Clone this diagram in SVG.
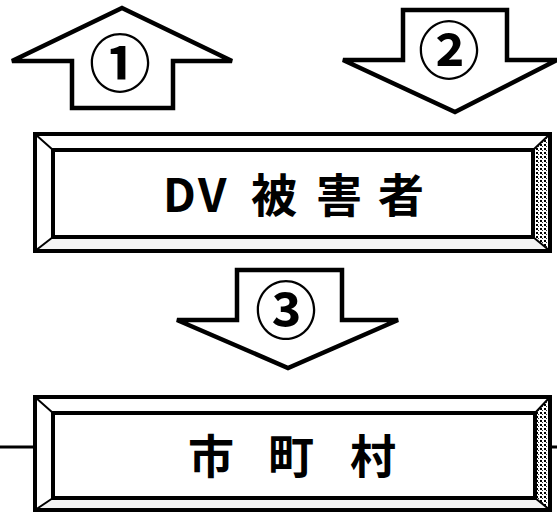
<svg xmlns="http://www.w3.org/2000/svg" width="557" height="512" viewBox="0 0 557 512">
<defs>
<pattern id="stip" width="4" height="4" patternUnits="userSpaceOnUse">
<rect width="4" height="4" fill="#ffffff"/>
<rect x="0" y="0" width="2" height="2" fill="#000"/>
<rect x="2" y="2" width="1" height="1" fill="#333"/>
</pattern>
</defs>
<style>
.arrow{fill:#fff;stroke:#000;stroke-width:4.5;stroke-linejoin:miter}
.frame{fill:none;stroke:#000;stroke-width:4}
.bev{stroke:#000;stroke-width:2}
.num{font-family:"Noto Sans CJK JP","Noto Sans",sans-serif;font-size:62px;font-weight:bold;text-anchor:middle;fill:#000}
.lbl{font-family:"Noto Sans CJK JP","Noto Sans",sans-serif;font-size:46px;font-weight:bold;fill:#000}
.conn{stroke:#000;stroke-width:3;fill:none}
</style>
<rect width="557" height="512" fill="#fff"/>
<g id="arrow1">
<polygon class="arrow" points="122,8 232,61 173,61 173,108 72,108 72,61 12,61"/>
<text class="num" x="120" y="87">①</text>
</g>
<g id="arrow2">
<polygon class="arrow" points="403,10 507,10 507,60 557,60 455,112 343,60 403,60"/>
<text class="num" x="449" y="74">②</text>
</g>
<g id="arrow3">
<polygon class="arrow" points="237,270 342,270 342,320 398,320 288,368 177,320 237,320"/>
<text class="num" x="286" y="334">③</text>
</g>
<g id="box1">
<rect x="35" y="134" width="515" height="117" fill="#fff"/>
<polygon points="533,150 550,134 550,251 533,237" fill="url(#stip)"/>
<polygon points="53,237 533,237 550,251 35,251" fill="#f4f4f4"/>
<line class="bev" x1="35" y1="134" x2="53" y2="150"/>
<line class="bev" x1="35" y1="251" x2="53" y2="237"/>
<line class="bev" x1="550" y1="134" x2="533" y2="150"/>
<line class="bev" x1="550" y1="251" x2="533" y2="237"/>
<rect class="frame" x="35" y="134" width="515" height="117"/>
<rect class="frame" x="53" y="150" width="480" height="87"/>
<text class="lbl" x="163 198 251 316 378" y="212">DV被害者</text>
</g>
<g id="box2">
<rect x="35" y="397" width="515" height="113" fill="#fff"/>
<polygon points="535,413 550,397 550,510 535,498" fill="url(#stip)"/>
<polygon points="53,498 535,498 550,510 35,510" fill="#f4f4f4"/>
<line class="bev" x1="35" y1="397" x2="53" y2="413"/>
<line class="bev" x1="35" y1="510" x2="53" y2="498"/>
<line class="bev" x1="550" y1="397" x2="535" y2="413"/>
<line class="bev" x1="550" y1="510" x2="535" y2="498"/>
<rect class="frame" x="35" y="397" width="515" height="113"/>
<rect class="frame" x="53" y="413" width="482" height="85"/>
<text class="lbl" x="188 268 350" y="473">市町村</text>
</g>
<g id="connectors">
<line class="conn" x1="0" y1="447" x2="35" y2="447"/>
<line class="conn" x1="550" y1="447" x2="557" y2="447"/>
</g>
</svg>
